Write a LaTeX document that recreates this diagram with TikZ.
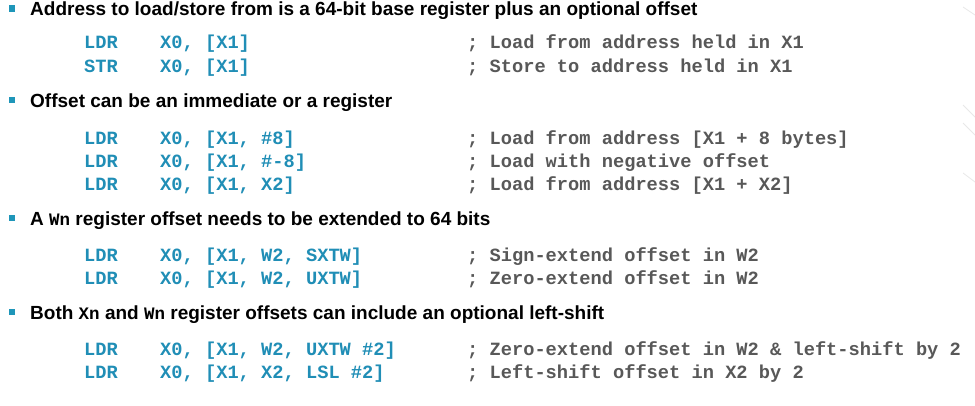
\documentclass[tikz,border=0pt]{standalone}
\usepackage{fontspec}
\setmainfont{Liberation Sans}
\setmonofont{Liberation Mono}
\usetikzlibrary{positioning}
\definecolor{codeteal}{RGB}{32,142,182}
\definecolor{cmtgray}{RGB}{88,88,88}
\definecolor{bullteal}{RGB}{30,150,185}
\newcommand{\regname}[1]{{\fontsize{17.5}{20}\selectfont\ttfamily\bfseries #1}}
\tikzset{
  headline/.style={anchor=base west,inner sep=0pt,
    font=\fontsize{19}{22}\selectfont\bfseries},
  codeline/.style={anchor=base west,inner sep=0pt,text=codeteal,
    font=\fontsize{18.7}{22}\selectfont\ttfamily\bfseries},
  cmtline/.style={codeline,text=cmtgray},
  bulletbox/.style={fill=bullteal,minimum size=6.5pt,inner sep=0pt}
}
\begin{document}
\begin{tikzpicture}[x=1pt,y=-1pt]
  \useasboundingbox[fill=white] (0,0) rectangle (975,405);
  % faint slide background strokes
  \foreach \ya/\yb in {7/15,105/117,123/135,173/182}
    \draw[gray!18,line width=.8pt] (963,\ya) -- (975,\yb);
  % headings
  \foreach \y/\txt [count=\i] in {%
    15.5/{Address to load/store from is a 64-bit base register plus an optional offset},
    107/{Offset can be an immediate or a register},
    225/{A \regname{Wn} register offset needs to be extended to 64 bits},
    319/{Both \regname{Xn} and \regname{Wn} register offsets can include an optional left-shift}}{%
      \node[headline] (h\i) at (30,\y) {\txt};
      \node[bulletbox] (b\i) at (12,\y-7) {};
    }
  % code lines
  \foreach \y/\mn/\ops/\cmt [count=\i] in {%
    48.5/LDR/{X0, [X1]}/{; Load from address held in X1},
    72/STR/{X0, [X1]}/{; Store to address held in X1},
    144/LDR/{X0, [X1, \#8]}/{; Load from address [X1 + 8 bytes]},
    167/LDR/{X0, [X1, \#-8]}/{; Load with negative offset},
    190/LDR/{X0, [X1, X2]}/{; Load from address [X1 + X2]},
    261/LDR/{X0, [X1, W2, SXTW]}/{; Sign-extend offset in W2},
    284/LDR/{X0, [X1, W2, UXTW]}/{; Zero-extend offset in W2},
    355/LDR/{X0, [X1, W2, UXTW \#2]}/{; Zero-extend offset in W2 \& left-shift by 2},
    378/LDR/{X0, [X1, X2, LSL \#2]}/{; Left-shift offset in X2 by 2}}{%
      \node[codeline] (mn\i) at (84,\y) {\mn};
      \node[codeline] (ops\i) at (160,\y) {\ops};
      \node[cmtline] (cmt\i) at (467,\y) {\cmt};
    }
\end{tikzpicture}
\end{document}
